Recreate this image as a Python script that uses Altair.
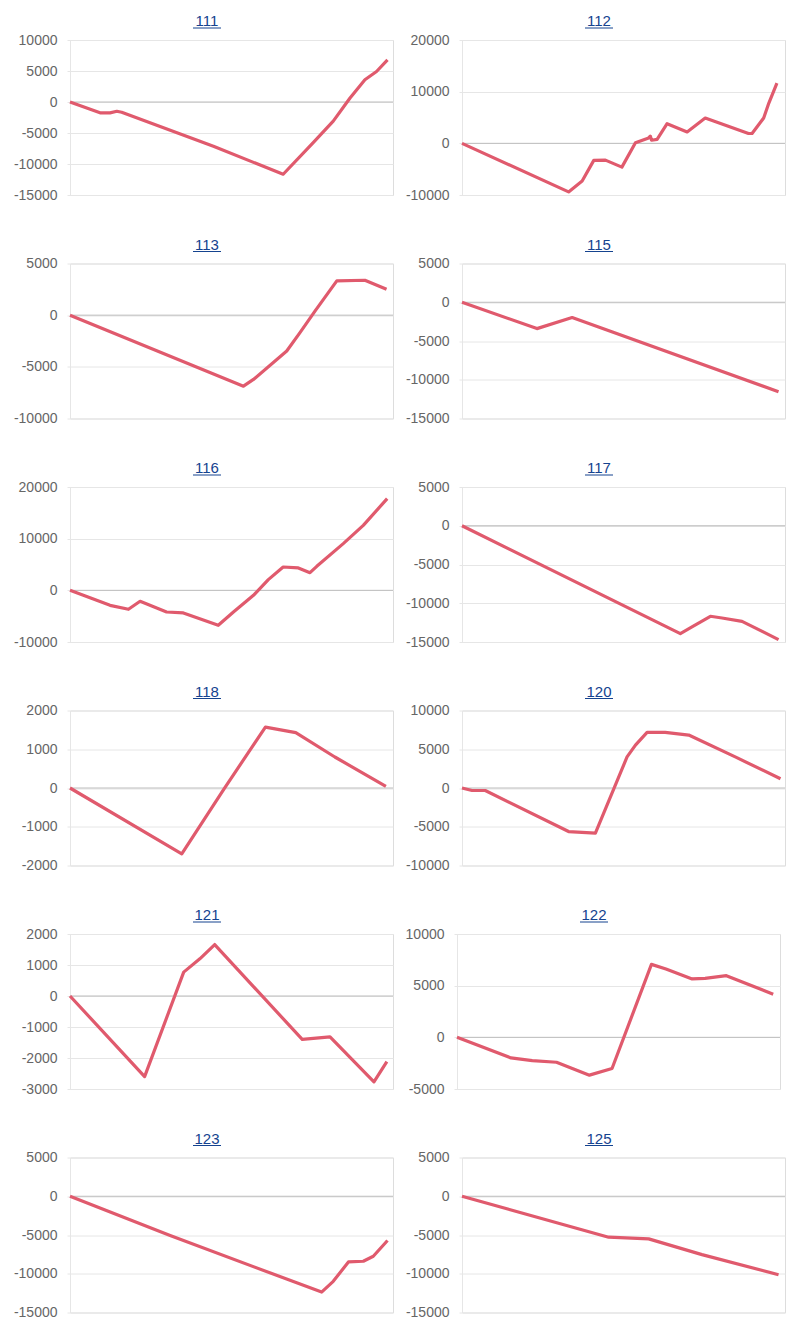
import altair as alt
import pandas as pd

# ---------------- data (x = position along the run, % of plot width) ----------------
PANEL_IDS = ["111", "112", "113", "115", "116", "117", "118", "120", "121", "122", "123", "125"]

S111_X = [0, 9.3, 12.4, 14.5, 16.0, 44.4, 66.0, 75.3, 81.5, 86.7, 91.3, 94.9, 98.3]
S111_Y = [0, -1750, -1750, -1500, -1650, -7150, -11650, -6560, -3090, 650, 3590, 4920, 6800]

S112_X = [0, 33.0, 37.2, 40.8, 44.4, 49.5, 53.7, 57.8, 58.3, 58.7, 60.4, 63.5, 69.7, 75.3, 88.7, 89.8, 93.4, 95.0, 97.5]
S112_Y = [0, -9400, -7300, -3300, -3250, -4600, 100, 1050, 1400, 600, 750, 3800, 2200, 4900, 1900, 1900, 4900, 7800, 11650]

S113_X = [0, 53.7, 56.8, 67.1, 71.2, 75.9, 82.6, 91.3, 98.0]
S113_Y = [0, -6870, -6220, -3470, -1690, 410, 3320, 3380, 2510]

S115_X = [0, 23.2, 34.1, 98.0]
S115_Y = [0, -3400, -1980, -11550]

S116_X = [0, 12.4, 18.1, 21.7, 29.9, 35.1, 45.9, 50.6, 56.8, 61.4, 66.0, 70.7, 74.3, 76.4, 84.6, 90.8, 98.2]
S116_Y = [0, -2900, -3670, -2120, -4190, -4380, -6770, -4190, -960, 2070, 4520, 4330, 3420, 4650, 9040, 12580, 17740]

S117_X = [0, 67.6, 71.2, 76.9, 80.5, 86.7, 98.0]
S117_Y = [0, -13920, -13060, -11680, -11900, -12330, -14690]

S118_X = [0, 34.6, 47.7, 60.5, 69.9, 82.0, 97.8]
S118_Y = [0, -1700, -20, 1570, 1430, 800, 40]

S120_X = [0, 3.1, 7.2, 33.0, 41.3, 51.1, 53.7, 57.3, 62.9, 70.2, 84.6, 98.6]
S120_Y = [0, -320, -320, -5620, -5830, 4010, 5530, 7180, 7180, 6830, 4010, 1190]

S121_X = [0, 23.1, 35.2, 40.2, 44.8, 71.9, 80.5, 94.1, 98.1]
S121_Y = [0, -2600, 770, 1200, 1660, -1400, -1320, -2770, -2120]

S122_X = [0, 16.7, 23.3, 30.8, 41.0, 48.0, 60.2, 64.7, 72.8, 76.8, 83.4, 97.9]
S122_Y = [0, -1990, -2250, -2410, -3660, -3020, 7060, 6610, 5650, 5710, 5970, 4170]

S123_X = [0, 31.0, 77.9, 81.5, 86.2, 90.8, 93.9, 98.3]
S123_Y = [0, -5070, -12370, -10980, -8480, -8390, -7740, -5710]

S125_X = [0, 45.4, 57.8, 74.3, 98.0]
S125_Y = [0, -5280, -5500, -7530, -10120]

SERIES = {
    "111": (S111_X, S111_Y), "112": (S112_X, S112_Y), "113": (S113_X, S113_Y),
    "115": (S115_X, S115_Y), "116": (S116_X, S116_Y), "117": (S117_X, S117_Y),
    "118": (S118_X, S118_Y), "120": (S120_X, S120_Y), "121": (S121_X, S121_Y),
    "122": (S122_X, S122_Y), "123": (S123_X, S123_Y), "125": (S125_X, S125_Y),
}

Y_DOMAINS = {
    "111": (-15000, 10000, 5000), "112": (-10000, 20000, 10000), "113": (-10000, 5000, 5000),
    "115": (-15000, 5000, 5000), "116": (-10000, 20000, 10000), "117": (-15000, 5000, 5000),
    "118": (-2000, 2000, 1000), "120": (-10000, 10000, 5000), "121": (-3000, 2000, 1000),
    "122": (-5000, 10000, 5000), "123": (-15000, 5000, 5000), "125": (-15000, 5000, 5000),
}

# ---------------- style ----------------
FONT = "Liberation Sans"
LINE_COLOR = "#e05a6d"
TITLE_COLOR = "#15438f"
GRID_COLOR = "#e6e6e6"
ZERO_COLOR = "#bdbdbd"
LABEL_SIZE = 14
LABEL_PAD = 10
TICK_SIZE = 3
PLOT_W = 323
PLOT_H = 155


def panel(pid):
    xs, ys = SERIES[pid]
    lo, hi, step = Y_DOMAINS[pid]
    ticks = list(range(lo, hi + 1, step))
    w = PLOT_W
    yenc = alt.Y(
        "y:Q",
        scale=alt.Scale(domain=[lo, hi], nice=False, zero=False),
        axis=alt.Axis(values=ticks, title=None, grid=True, gridColor=GRID_COLOR,
                      domainColor=GRID_COLOR, tickColor=GRID_COLOR, tickSize=TICK_SIZE,
                      labelPadding=LABEL_PAD, labelFont=FONT, labelFontSize=LABEL_SIZE,
                      labelColor="#666666", labelExpr="'' + datum.value"),
    )
    xenc = alt.X("x:Q", scale=alt.Scale(domain=[0, 100], nice=False), axis=None)
    df = pd.DataFrame({"x": xs, "y": ys})

    zero = alt.Chart(pd.DataFrame({"y": [0]})).mark_rule(color=ZERO_COLOR, strokeWidth=1).encode(y=yenc)
    line = alt.Chart(df).mark_line(color=LINE_COLOR, strokeWidth=3.2, strokeJoin="round").encode(x=xenc, y=yenc)
    cx = w - 186
    title = alt.Chart(pd.DataFrame({"t": [pid]})).mark_text(
        font=FONT, fontSize=15, color=TITLE_COLOR, align="center", baseline="alphabetic"
    ).encode(x=alt.value(cx), y=alt.value(-14), text="t:N")
    underline = alt.Chart(pd.DataFrame({"t": [pid]})).mark_rule(color=TITLE_COLOR, strokeWidth=1).encode(
        x=alt.value(cx - 14), x2=alt.value(cx + 14), y=alt.value(-12)
    )
    return alt.layer(zero, line, title, underline).properties(width=w, height=PLOT_H)


rows = []
for i in range(0, len(PANEL_IDS), 2):
    rows.append(alt.hconcat(panel(PANEL_IDS[i]), panel(PANEL_IDS[i + 1]), spacing=10))

chart = (
    alt.vconcat(*rows, spacing=33.5)
    .properties(padding={"left": 4, "right": 2, "top": 5, "bottom": 2})
    .configure_view(strokeWidth=0, stroke="transparent")
    .configure(background="white")
)

chart.save("out.html", embed_options={"renderer": "svg", "actions": False})
